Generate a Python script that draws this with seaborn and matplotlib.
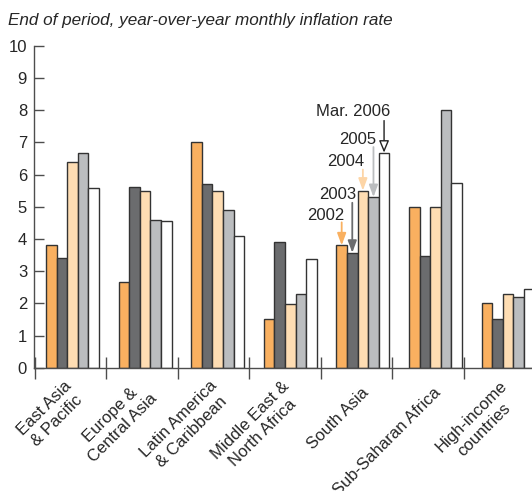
import numpy as np
import pandas as pd
import matplotlib
matplotlib.use("Agg")
import matplotlib.pyplot as plt
import matplotlib.transforms as mtransforms
import seaborn as sns

regions = ["East Asia\n& Pacific", "Europe &\nCentral Asia", "Latin America\n& Caribbean",
           "Middle East &\nNorth Africa", "South Asia", "Sub-Saharan Africa", "High-income\ncountries"]
series = ["2002", "2003", "2004", "2005", "Mar. 2006"]
v2002 = [3.8, 2.67, 7.0, 1.5, 3.8, 5.0, 2.0]
v2003 = [3.4, 5.6, 5.7, 3.9, 3.57, 3.48, 1.5]
v2004 = [6.4, 5.5, 5.5, 1.97, 5.5, 5.0, 2.3]
v2005 = [6.68, 4.6, 4.9, 2.3, 5.3, 8.0, 2.2]
vmar2006 = [5.57, 4.56, 4.1, 3.37, 6.68, 5.74, 2.43]
title = "End of period, year-over-year monthly inflation rate"

colors = ["#F9B060", "#6B6C6E", "#FEDDB3", "#BBBDBF", "#FFFFFF"]

rows = []
for s, vals in zip(series, [v2002, v2003, v2004, v2005, vmar2006]):
    for r, v in zip(regions, vals):
        rows.append({"region": r, "series": s, "value": v})
df = pd.DataFrame(rows)

sns.set_theme(style="white")
plt.rcParams['font.family'] = ['Liberation Sans', 'DejaVu Sans']
txt = "#262626"
axc = "#4d4d4d"

fig = plt.figure(figsize=(5.32, 4.91), dpi=100)
ax = fig.add_axes([0.064, 0.251, 0.936, 0.656])
sns.barplot(data=df, x="region", y="value", hue="series", order=regions,
            hue_order=series, palette=colors, width=0.73, edgecolor="#333333",
            linewidth=1.0, ax=ax, legend=False, saturation=1)

ax.set_ylim(0, 10)
ax.set_xlim(-0.53, 6.33)
ax.set_xlabel("")
ax.set_ylabel("")
for sp in ["top", "right"]:
    ax.spines[sp].set_visible(False)
for sp in ["left", "bottom"]:
    ax.spines[sp].set_color(axc)
    ax.spines[sp].set_linewidth(1.0)

ax.set_yticks(np.arange(0, 11, 1))
ax.tick_params(axis="y", direction="in", length=7, width=1, color=axc,
               labelsize=12, labelcolor=txt, pad=5, left=True)
ax.tick_params(axis="x", which="major", length=0, pad=16, labelsize=12, labelcolor=txt, bottom=True)
ax.set_xticks(-0.523 + 0.986 * np.arange(7), minor=True)
ax.tick_params(axis="x", which="minor", direction="inout", length=16, width=1, color=axc, bottom=True)
shift = mtransforms.ScaledTranslation(3 / 100, 0, fig.dpi_scale_trans)
for lab in ax.get_xticklabels():
    lab.set_rotation(45)
    lab.set_ha("right")
    lab.set_va("center")
    lab.set_rotation_mode("anchor")
    lab.set_multialignment("center")
    lab.set_linespacing(1.25)
    lab.set_transform(lab.get_transform() + shift)

fig.text(0.015, 0.958, title, fontsize=12.3, style="italic", color=txt, ha="left", va="center")

# annotations on South Asia group
gi = regions.index("South Asia")
arrow_start = [23, 50, 21, 50, 32]
text_dy = [30, 58.7, 28.7, 58, 40.7]
text_dx = [3, 4, 1.5, 3, 6]
arrow_colors = ["#F9B060", "#6B6C6E", "#FDD5A6", "#BBBDBF", "#222222"]
for j, s in enumerate(series):
    patch = ax.containers[j][gi]
    bx = patch.get_x() + patch.get_width() / 2
    top = patch.get_height()
    if j == 4:
        props = dict(arrowstyle="-|>,head_length=0.6,head_width=0.25", color=arrow_colors[j],
                     fc="white", lw=1.0, shrinkA=0, shrinkB=0)
    else:
        props = dict(arrowstyle="-|>,head_length=0.6,head_width=0.22", color=arrow_colors[j],
                     lw=1.3, shrinkA=0, shrinkB=0)
    ax.annotate("", xy=(bx, top), xycoords="data", xytext=(0, arrow_start[j]),
                textcoords="offset pixels", arrowprops=props)
    ax.annotate(s, xy=(bx, top), xycoords="data", xytext=(text_dx[j], text_dy[j]),
                textcoords="offset pixels", ha="right", va="center", fontsize=12, color=txt)

fig.savefig("out.png", dpi=100)
